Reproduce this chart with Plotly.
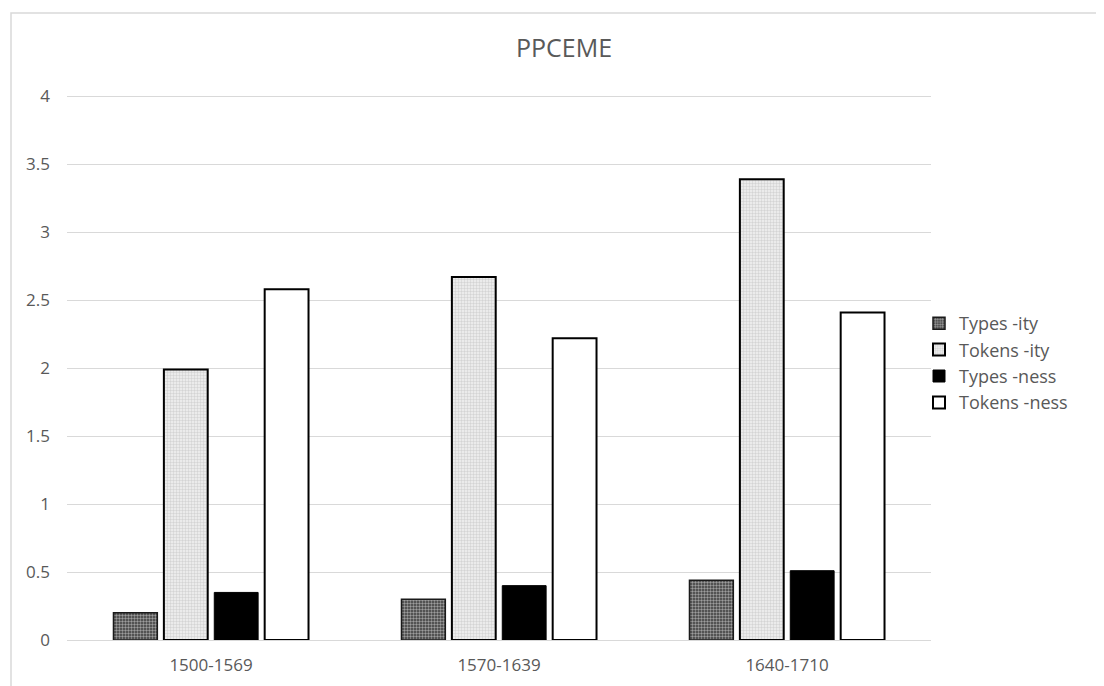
import plotly.graph_objects as go

categories = ["1500-1569", "1570-1639", "1640-1710"]
types_ity = [0.20, 0.30, 0.44]
tokens_ity = [1.99, 2.67, 3.39]
types_ness = [0.35, 0.40, 0.51]
tokens_ness = [2.58, 2.22, 2.41]

OFF = 8  # page offset of the figure
W, H = 1104, 686
L, T = 67 - OFF, 95 - OFF
pw, ph = 864, 545
R = W - L - pw
B = H - T - ph

def px_x(sx):  # screen x -> paper x
    return (sx - OFF - L) / pw

def px_y(sy):  # screen y -> paper y
    return (T + ph - (sy - OFF)) / ph

fig = go.Figure()
fig.add_trace(go.Bar(
    name="Types -ity", x=categories, y=types_ity,
    marker=dict(color="#3a3a3a", line=dict(color="#1a1a1a", width=1.5),
                pattern=dict(shape=".", bgcolor="#3a3a3a", fgcolor="#ffffff",
                             size=3, solidity=0.5, fillmode="overlay")),
))
fig.add_trace(go.Bar(
    name="Tokens -ity", x=categories, y=tokens_ity,
    marker=dict(color="#e6e6e6", line=dict(color="#000000", width=2),
                pattern=dict(shape=".", bgcolor="#f2f2f2", fgcolor="#b5b5b5",
                             size=3, solidity=0.5, fillmode="overlay")),
))
fig.add_trace(go.Bar(
    name="Types -ness", x=categories, y=types_ness,
    marker=dict(color="#000000", line=dict(color="#000000", width=1)),
))
fig.add_trace(go.Bar(
    name="Tokens -ness", x=categories, y=tokens_ness,
    marker=dict(color="#ffffff", line=dict(color="#000000", width=2)),
))

font_family = "Open Sans, Liberation Sans, sans-serif"

fig.update_layout(
    width=W, height=H,
    margin=dict(l=L, r=R, t=T, b=B),
    paper_bgcolor="white", plot_bgcolor="white",
    barmode="group", bargap=0.30, bargroupgap=0.13,
    font=dict(family=font_family, color="#595959", size=17),
    title=dict(text="PPCEME", x=(564 - OFF) / W, xanchor="center",
               y=1 - (48 - OFF) / H, yanchor="middle",
               font=dict(size=25, color="#595959")),
    showlegend=True,
    legend=dict(x=px_x(934) - 15 / pw, xanchor="left", y=px_y(363),
                yanchor="middle", font=dict(size=18, color="#595959"),
                bgcolor="rgba(0,0,0,0)", itemwidth=30),
    xaxis=dict(showgrid=False, showline=True, linecolor="#d9d9d9", linewidth=1,
               ticks="", tickfont=dict(size=17, color="#595959"),
               ticklabelstandoff=10),
    yaxis=dict(range=[0, 4.01], tickvals=[0, 0.5, 1, 1.5, 2, 2.5, 3, 3.5, 4],
               ticktext=["0", "0.5", "1", "1.5", "2", "2.5", "3", "3.5", "4"],
               showgrid=True, gridcolor="#d9d9d9",
               gridwidth=1, zeroline=False, showline=False, ticks="",
               tickfont=dict(size=17, color="#595959"), ticklabelstandoff=16),
)

# chart border (top and left visible)
fig.add_shape(type="rect", xref="paper", yref="paper",
              x0=px_x(11), x1=px_x(W + 40),
              y0=px_y(H + 40), y1=px_y(13),
              line=dict(color="#d9d9d9", width=1.5), fillcolor="rgba(0,0,0,0)",
              layer="below")

fig.write_html("out.html")
